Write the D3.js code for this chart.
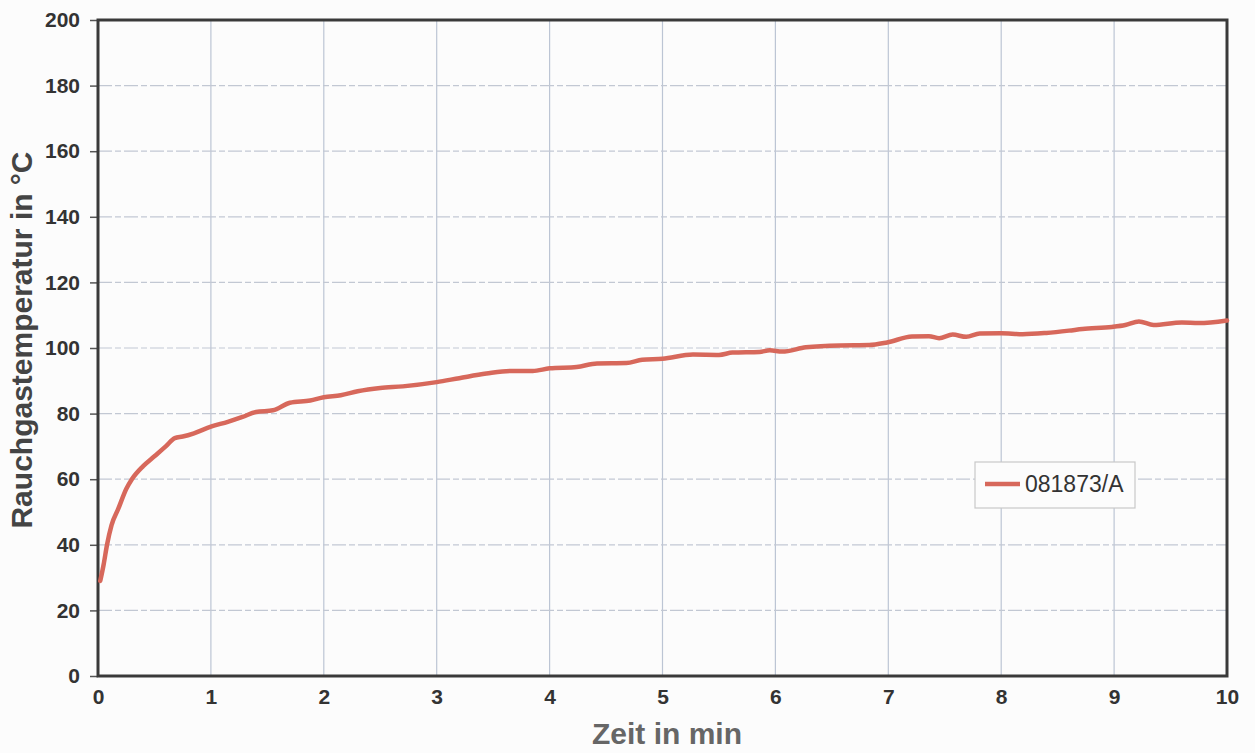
<!DOCTYPE html>
<html>
<head>
<meta charset="utf-8">
<script src="https://cdn.jsdelivr.net/npm/d3@7"></script>
<style>
  body { margin: 0; background: #fcfcfc; }
  svg { font-family: "Liberation Sans", Arial, sans-serif; }
</style>
</head>
<body>
<div id="grafico"></div>
<script>
// Messwerte (Zeit in min, Rauchgastemperatur in °C)
const ZEIT = [0.02, 0.05, 0.08, 0.12, 0.18, 0.25, 0.3, 0.4, 0.5, 0.6, 0.68, 0.75, 0.85, 1.0, 1.15, 1.28, 1.4, 1.55, 1.7, 1.88,
  2.0, 2.15, 2.3, 2.5, 2.7, 3.0, 3.2, 3.44, 3.65, 3.85, 4.0, 4.24, 4.42, 4.68, 4.82, 5.0, 5.27, 5.5, 5.62, 5.86,
  5.95, 6.06, 6.27, 6.57, 6.83, 6.99, 7.21, 7.36, 7.45, 7.57, 7.69, 7.81, 8.0, 8.19, 8.4, 8.6, 8.72, 8.98, 9.1, 9.22,
  9.35, 9.6, 9.75, 10.0];
const TEMPERATUR = [29, 34, 40, 46, 51, 57, 60, 64, 67, 70, 72.5, 73, 74, 76, 77.5, 79, 80.5, 81, 83.3, 84,
  85, 85.6, 86.8, 87.8, 88.3, 89.6, 90.8, 92.2, 93, 93, 93.8, 94.2, 95.3, 95.4, 96.4, 96.7, 98, 97.9, 98.6, 98.8,
  99.3, 98.9, 100.2, 100.8, 100.9, 101.7, 103.5, 103.6, 103.0, 104.1, 103.4, 104.4, 104.5, 104.2, 104.6, 105.3, 105.8, 106.4, 107, 108.1,
  107, 107.8, 107.6, 108.4];
const X_TICKS = [0, 1, 2, 3, 4, 5, 6, 7, 8, 9, 10];
const Y_TICKS = [0, 20, 40, 60, 80, 100, 120, 140, 160, 180, 200];
const SERIE = "081873/A";

const WIDTH = 1255, HEIGHT = 753;
const LEFT = 98, TOP = 20, RIGHT = 1227, BOTTOM = 676;

const svg = d3.select("#grafico").append("svg").attr("width", WIDTH).attr("height", HEIGHT);

const x = d3.scaleLinear().domain([0, 10]).range([LEFT, RIGHT]);
const y = d3.scaleLinear().domain([0, 200]).range([BOTTOM, TOP]);

// Gitter
svg.append("g").selectAll("line").data(X_TICKS.slice(1, -1)).enter().append("line")
  .attr("x1", d => x(d)).attr("x2", d => x(d))
  .attr("y1", TOP).attr("y2", BOTTOM)
  .attr("stroke", "#bcc5d4").attr("stroke-width", 1.2);

svg.append("g").selectAll("line").data(Y_TICKS.slice(1, -1)).enter().append("line")
  .attr("x1", LEFT).attr("x2", RIGHT)
  .attr("y1", d => y(d)).attr("y2", d => y(d))
  .attr("stroke", "#c2c8d3").attr("stroke-width", 1.2)
  .attr("stroke-dasharray", "14,3,6,3");

// Achsen
const ejeY = svg.append("g").attr("transform", "translate(" + LEFT + ",0)")
  .call(d3.axisLeft(y).tickValues(Y_TICKS).tickSize(8).tickPadding(10));
const ejeX = svg.append("g").attr("transform", "translate(0," + BOTTOM + ")")
  .call(d3.axisBottom(x).tickValues(X_TICKS).tickSize(0).tickPadding(13));

[ejeY, ejeX].forEach(g => {
  g.select(".domain").remove();
  g.selectAll("line").attr("stroke", "#555").attr("stroke-width", 1.5);
  g.selectAll("text").attr("fill", "#333").style("font-size", "21px").style("font-weight", "bold")
    .style("font-family", "'Liberation Sans', Arial, sans-serif");
});

// Rahmen
svg.append("rect")
  .attr("x", LEFT).attr("y", TOP).attr("width", RIGHT - LEFT).attr("height", BOTTOM - TOP)
  .attr("fill", "none").attr("stroke", "#3a3a3a").attr("stroke-width", 3);

// Kurve
const linea = d3.line().x(d => x(d[0])).y(d => y(d[1])).curve(d3.curveMonotoneX);
svg.append("path")
  .datum(ZEIT.map((t, i) => [t, TEMPERATUR[i]]))
  .attr("d", linea)
  .attr("fill", "none").attr("stroke", "#d7685b").attr("stroke-width", 4.5)
  .attr("stroke-linejoin", "round").attr("stroke-linecap", "round");

// Legende
const leyenda = svg.append("g").attr("transform", "translate(975,462)");
leyenda.append("rect").attr("width", 160).attr("height", 46)
  .attr("fill", "#fcfcfc").attr("stroke", "#c8c8c8").attr("stroke-width", 1.2);
leyenda.append("line").attr("x1", 10).attr("x2", 45).attr("y1", 22).attr("y2", 22)
  .attr("stroke", "#d7685b").attr("stroke-width", 4.5);
leyenda.append("text").attr("x", 50).attr("y", 30).text(SERIE)
  .attr("fill", "#333").style("font-size", "23px");

// Achsentitel
svg.append("text").attr("x", 667).attr("y", 744).attr("text-anchor", "middle")
  .attr("fill", "#666").style("font-size", "30px").style("font-weight", "bold")
  .text("Zeit in min");
svg.append("text").attr("transform", "translate(32,340) rotate(-90)").attr("text-anchor", "middle")
  .attr("fill", "#444").style("font-size", "30px").style("font-weight", "bold")
  .text("Rauchgastemperatur in °C");
</script>
</body>
</html>
